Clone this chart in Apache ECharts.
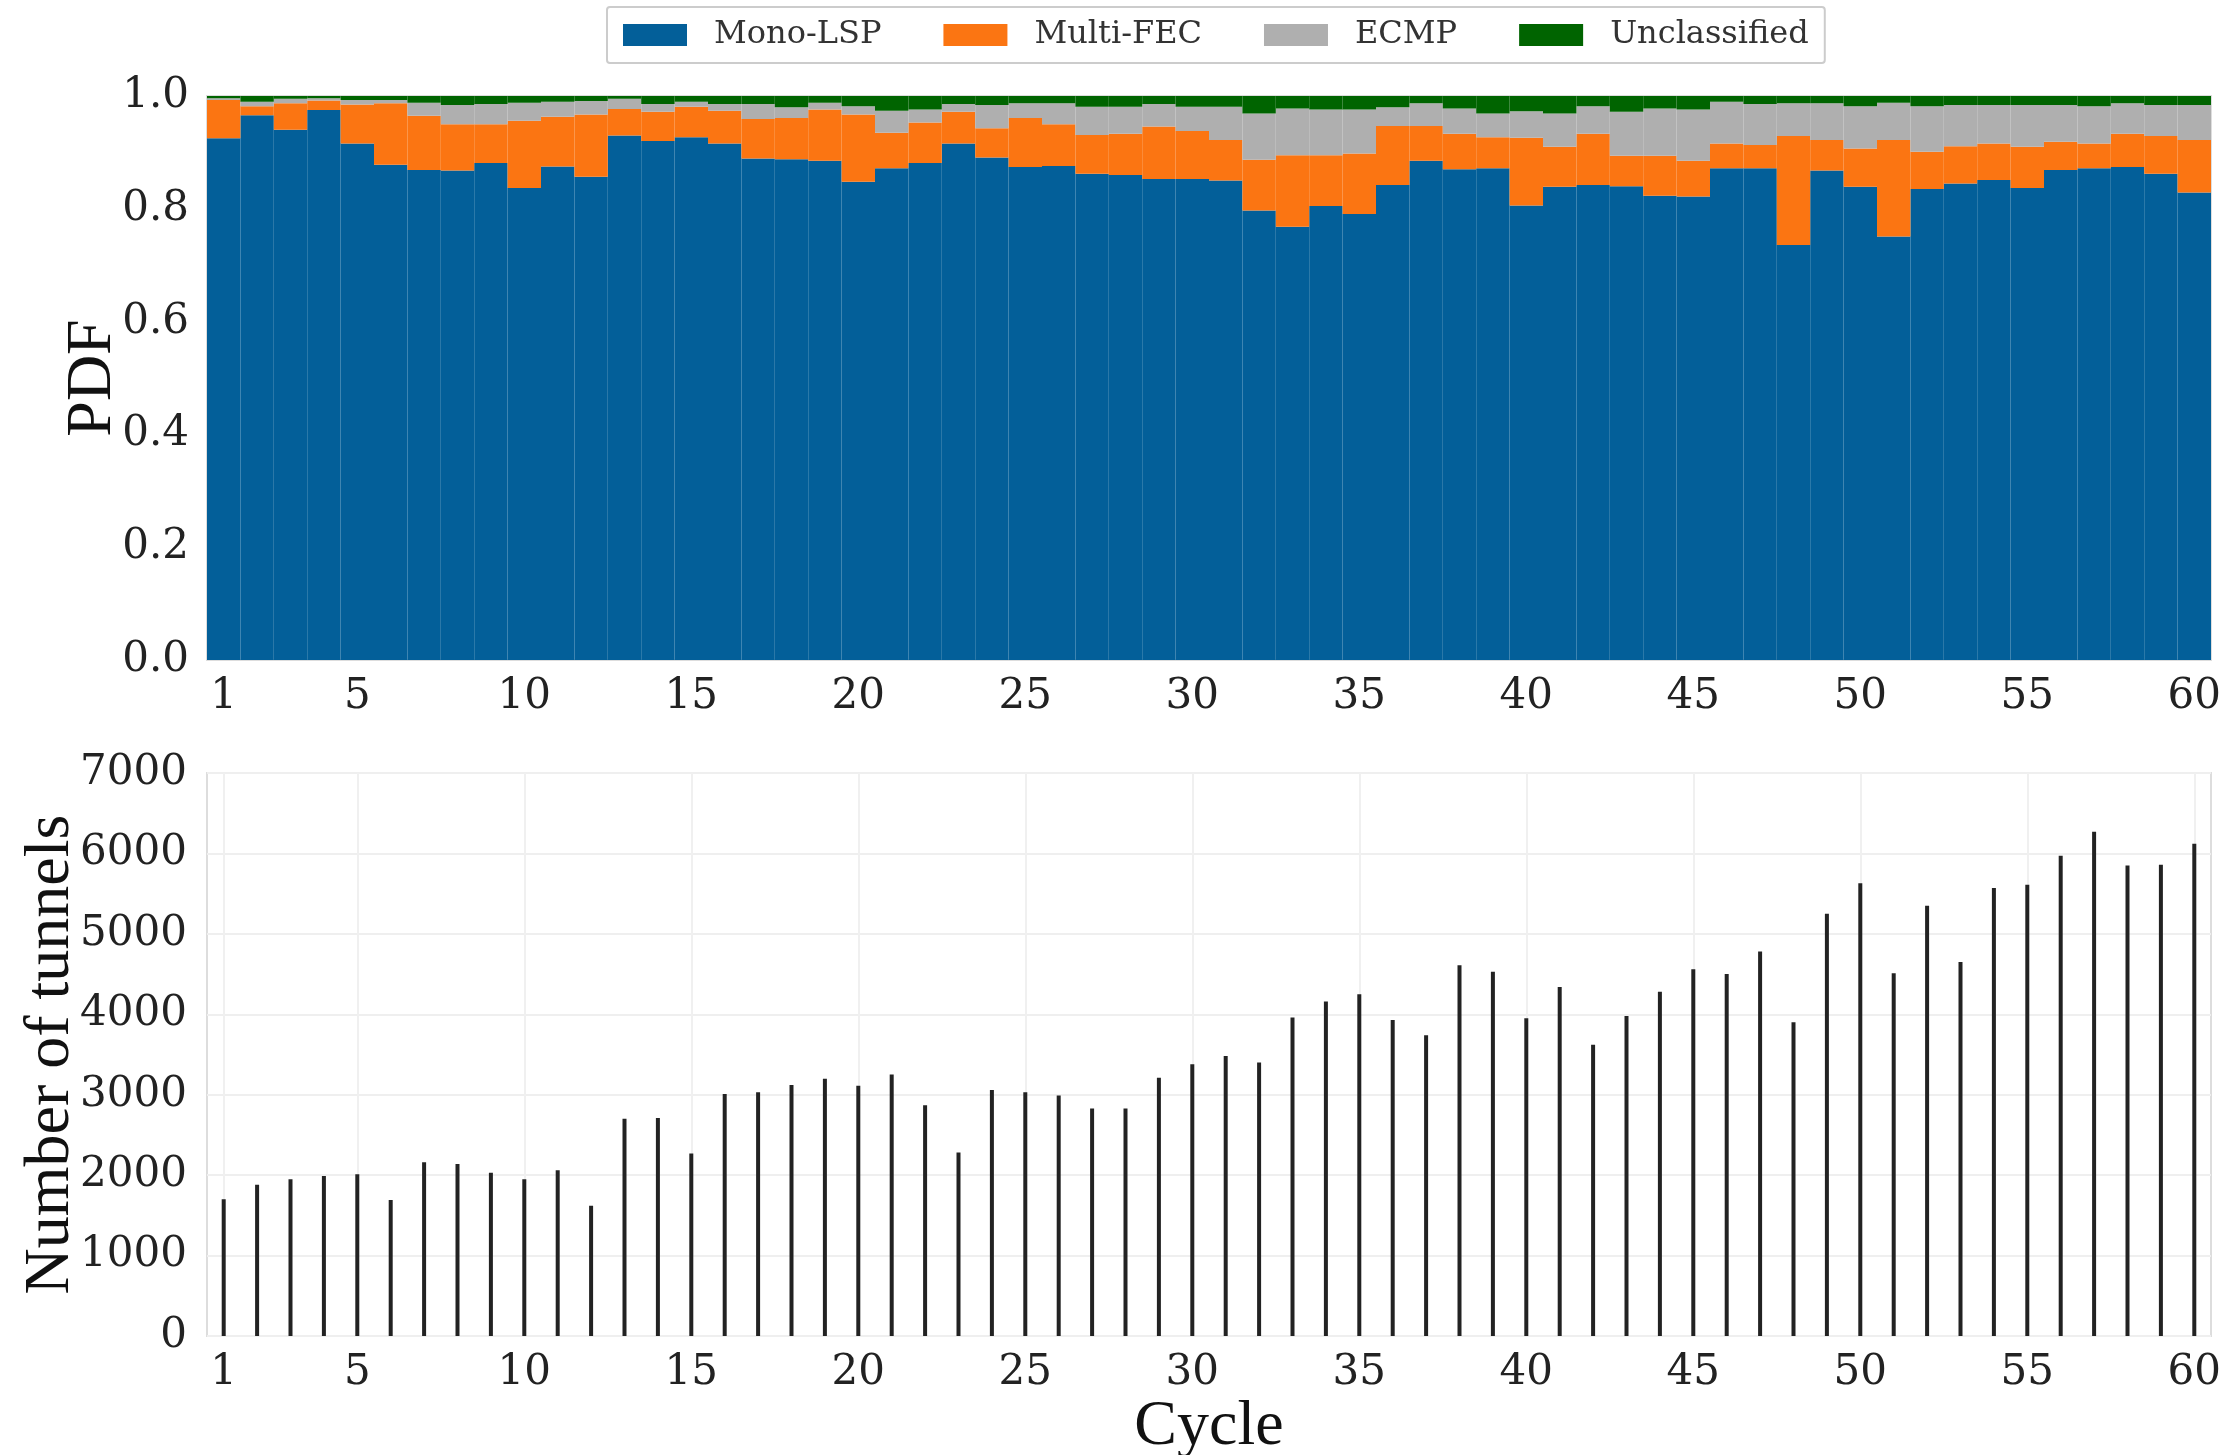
<!DOCTYPE html>
<html>
<head>
<meta charset="utf-8">
<title>Tunnel classification per cycle</title>
<script src="https://cdn.jsdelivr.net/npm/echarts@6/dist/echarts.min.js"></script>
<style>
  html, body { margin: 0; padding: 0; background: #fff; }
  #main { width: 2240px; height: 1455px; }
</style>
</head>
<body>
<div id="main"></div>
<script>
// cycles 1..60
const cycles = []
for (let i = 1; i <= 60; i++) cycles.push(String(i))

// share of each tunnel class per cycle
const monoLSP = [.925,.966,.940,.975,.916,.878,.869,.868,.881,.837,.875,.857,.930,.920,.927,.916,.889,.888,.885,.848,
                 .872,.881,.916,.891,.874,.876,.862,.860,.853,.853,.850,.797,.768,.805,.791,.842,.885,.870,.872,.806,
                 .839,.842,.840,.823,.822,.872,.872,.736,.868,.839,.751,.835,.845,.851,.837,.869,.872,.874,.862,.829]
const multiFEC = [.068,.016,.047,.017,.069,.109,.096,.082,.069,.119,.088,.110,.047,.052,.054,.058,.070,.073,.091,.119,
                  .063,.072,.056,.052,.087,.074,.069,.073,.093,.085,.072,.090,.127,.090,.107,.105,.062,.063,.055,.120,
                  .071,.091,.054,.071,.063,.044,.041,.193,.054,.068,.171,.066,.066,.065,.073,.050,.044,.059,.067,.093]
const ecmp = [.003,.008,.008,.004,.008,.006,.023,.034,.036,.032,.027,.024,.018,.014,.009,.012,.027,.019,.012,.015,
              .039,.023,.014,.041,.026,.037,.050,.048,.040,.043,.059,.082,.083,.081,.078,.033,.040,.045,.042,.047,
              .059,.049,.078,.084,.091,.074,.073,.058,.065,.075,.066,.081,.073,.068,.074,.065,.066,.054,.055,.062]
const unclassified = [.004,.010,.005,.004,.007,.007,.012,.016,.014,.012,.010,.009,.005,.014,.010,.014,.014,.020,.012,.018,
                      .026,.024,.014,.016,.013,.013,.019,.019,.014,.019,.019,.031,.022,.024,.024,.020,.013,.022,.031,.027,
                      .031,.018,.028,.022,.024,.010,.014,.013,.013,.018,.012,.018,.016,.016,.016,.016,.018,.013,.016,.016]

// number of tunnels per cycle
const tunnels = [1700,1880,1950,1990,2010,1690,2160,2140,2030,1950,2060,1620,2700,2710,2270,3010,3030,3120,3200,3110,
                 3250,2870,2280,3060,3030,2990,2830,2830,3210,3380,3480,3400,3960,4160,4250,3930,3740,4610,4530,3950,
                 4340,3620,3980,4280,4560,4500,4780,3900,5250,5630,4510,5350,4650,5570,5610,5970,6270,5850,5860,6120]

// cycles that get a label / vertical grid line
const labelCycles = ['1','5','10','15','20','25','30','35','40','45','50','55','60']

const tickFont = { fontFamily: 'DejaVu Serif', fontSize: 42, color: '#222' }
const nameFont = { fontFamily: 'Liberation Serif', fontSize: 64, color: '#111' }

const showLabel = (idx, val) => labelCycles.indexOf(val) !== -1

const colors = ['#035f99', '#fb7512', '#afafaf', '#006400']

const stack = (name, data, i) => ({
  name: name,
  type: 'bar',
  stack: 'pdf',
  xAxisIndex: 0,
  yAxisIndex: 0,
  barCategoryGap: '0%',
  itemStyle: { color: colors[i] },
  data: data
})

const option = {
  animation: false,
  backgroundColor: '#fff',
  legend: {
    top: 7,
    left: 607,
    padding: [12, 16],
    borderColor: '#cccccc',
    borderWidth: 2,
    borderRadius: 3,
    icon: 'rect',
    itemWidth: 64,
    itemHeight: 22,
    itemGap: 62,
    textStyle: { fontFamily: 'DejaVu Serif', fontSize: 32, color: '#333', padding: [0, 0, 0, 22] },
    data: ['Mono-LSP', 'Multi-FEC', 'ECMP', 'Unclassified']
  },
  grid: [
    { left: 207, right: 29, top: 96, height: 564, show: true, borderColor: '#dddddd', borderWidth: 2, outerBoundsMode: 'none' },
    { left: 207, right: 29, top: 773, height: 563, show: true, borderColor: '#dddddd', borderWidth: 2, outerBoundsMode: 'none' }
  ],
  xAxis: [
    {
      type: 'category', gridIndex: 0, data: cycles,
      axisLine: { show: false }, axisTick: { show: false },
      axisLabel: Object.assign({ interval: showLabel, margin: 16 }, tickFont)
    },
    {
      type: 'category', gridIndex: 1, data: cycles,
      name: 'Cycle', nameLocation: 'middle', nameGap: 50, nameTextStyle: nameFont,
      axisLine: { show: false }, axisTick: { show: false },
      axisLabel: Object.assign({ interval: showLabel, margin: 16 }, tickFont)
    }
  ],
  yAxis: [
    {
      type: 'value', gridIndex: 0, min: 0, max: 1, interval: 0.2,
      name: 'PDF', nameLocation: 'middle', nameGap: 82, nameMoveOverlap: false, nameTextStyle: nameFont,
      axisLine: { show: false }, axisTick: { show: false },
      splitLine: { show: false },
      axisLabel: Object.assign({ margin: 18, formatter: v => v.toFixed(1) }, tickFont)
    },
    {
      type: 'value', gridIndex: 1, min: 0, max: 7000, interval: 1000,
      name: 'Number of tunnels', nameLocation: 'middle', nameGap: 124, nameMoveOverlap: false, nameTextStyle: nameFont,
      axisLine: { show: false }, axisTick: { show: false },
      splitLine: { lineStyle: { color: '#efefef', width: 2 } },
      axisLabel: Object.assign({ margin: 20, formatter: v => String(v) }, tickFont)
    }
  ],
  series: [
    stack('Mono-LSP', monoLSP, 0),
    stack('Multi-FEC', multiFEC, 1),
    stack('ECMP', ecmp, 2),
    stack('Unclassified', unclassified, 3),
    {
      // light vertical grid at labelled cycles, kept under the bars
      name: 'vgrid',
      type: 'line',
      xAxisIndex: 1,
      yAxisIndex: 1,
      z: 1,
      data: [],
      markLine: {
        silent: true,
        symbol: 'none',
        label: { show: false },
        lineStyle: { color: '#f0f0f0', width: 2, type: 'solid' },
        data: labelCycles.map(c => ({ xAxis: c }))
      }
    },
    {
      name: 'tunnels',
      type: 'bar',
      xAxisIndex: 1,
      yAxisIndex: 1,
      z: 5,
      barWidth: 4,
      itemStyle: { color: '#222' },
      data: tunnels
    }
  ]
}

const myChart = echarts.init(document.getElementById('main'))
myChart.setOption(option)
</script>
</body>
</html>
